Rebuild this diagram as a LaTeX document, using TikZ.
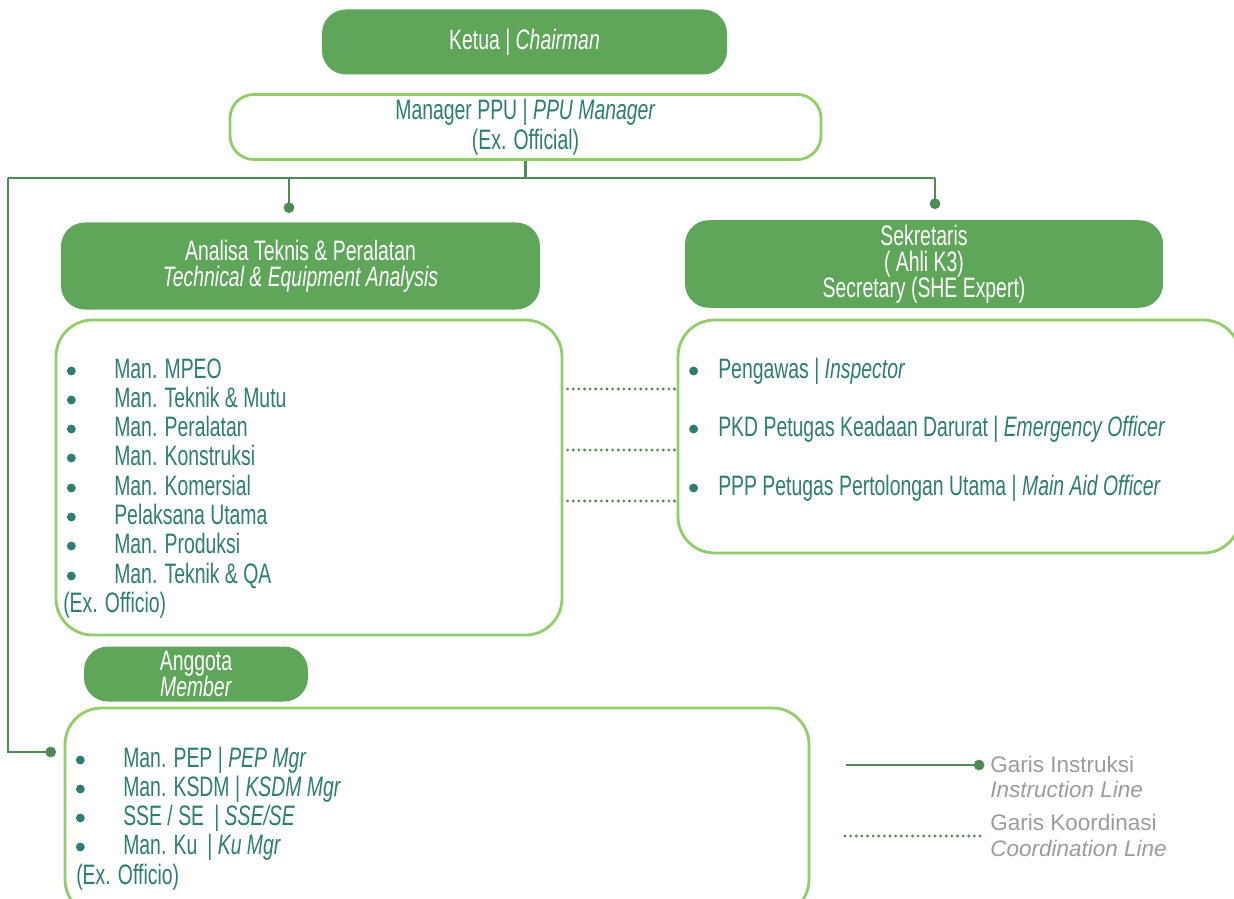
\documentclass[tikz,border=0pt]{standalone}
\usepackage{fontspec}
\setmainfont[FakeStretch=0.69]{Liberation Sans}
\newfontfamily\legendfont{Liberation Sans}
\usetikzlibrary{arrows.meta}
\setlength{\lineskiplimit}{-20pt}

\definecolor{boxgreen}{RGB}{95,165,90}
\definecolor{rimgreen}{RGB}{146,205,108}
\definecolor{linegreen}{RGB}{80,138,85}
\definecolor{tealtext}{RGB}{45,125,112}
\definecolor{legendgrey}{RGB}{155,155,155}

\newcommand{\pxl}{0.025cm}

\tikzset{
	headbox/.style={rectangle, rounded corners=17pt, fill=boxgreen, text=white, align=center},
	rimbox/.style={rectangle, rounded corners=17pt, draw=rimgreen, line width=2pt, fill=white, text=tealtext, align=center},
	listbox/.style={rectangle, rounded corners=26pt, draw=rimgreen, line width=2pt, fill=white},
	bul/.style={circle, fill=tealtext, inner sep=0pt, minimum size=6.3pt},
	item/.style={anchor=west, inner sep=0pt, text height=14pt, text depth=3pt, text=tealtext, label={[bul, xshift=-#1]left:{}}},
	item/.default=27pt,
	plain/.style={anchor=west, inner sep=0pt, text height=14pt, text depth=3pt, text=tealtext},
	legtext/.style={anchor=west, inner sep=0pt, text=legendgrey, font=\legendfont\fontsize{16}{18}\selectfont},
	instr/.style={draw=linegreen, line width=2pt},
	dotend/.style={-{Circle[length=7.5pt]}},
	coord/.style={draw=linegreen, line width=2.2pt, line cap=round, dash pattern=on 0pt off 4pt}
}

\begin{document}
\begin{tikzpicture}[x=0.025cm, y=-0.025cm, every node/.style={font=\fontsize{20}{18.5}\selectfont}]
	\useasboundingbox (0,0) rectangle (1234,899);

	% top of the chart
	\node[headbox, minimum width={405*\pxl}, minimum height={65*\pxl}] (ketua) at (524.5,42) {Ketua | \textit{Chairman}};
	\node[rimbox, minimum width={591*\pxl}, minimum height={64*\pxl}, font=\fontsize{20}{21}\selectfont] (manager) at (525.5,127) {Manager PPU | \textit{PPU Manager}\\(Ex. Official)};

	% two branches
	\node[headbox, minimum width={479*\pxl}, minimum height={87*\pxl}] (analisa) at (300.5,266) {Analisa Teknis \& Peralatan\\\textit{Technical \& Equipment Analysis}};
	\node[headbox, minimum width={478*\pxl}, minimum height={87*\pxl}] (sekretaris) at (924,264) {Sekretaris\\( Ahli K3)\\Secretary (SHE Expert)};

	\node[listbox, minimum width={506*\pxl}, minimum height={315*\pxl}] (leftlist) at (309,477.5) {};
	\node[listbox, minimum width={562*\pxl}, minimum height={233*\pxl}] (rightlist) at (959,436.5) {};

	\node[item] (l1) at (114,371) {Man. MPEO};
	\node[item] (l2) at (114,400) {Man. Teknik \& Mutu};
	\node[item] (l3) at (114,429) {Man. Peralatan};
	\node[item] (l4) at (114,458) {Man. Konstruksi};
	\node[item] (l5) at (114,488) {Man. Komersial};
	\node[item] (l6) at (114,517) {Pelaksana Utama};
	\node[item] (l7) at (114,546) {Man. Produksi};
	\node[item] (l8) at (114,576) {Man. Teknik \& QA};
	\node[plain] (lex) at (63,605) {(Ex. Officio)};

	\node[item=14pt] (r1) at (718,371) {Pengawas | \textit{Inspector}};
	\node[item=14pt] (r2) at (718,429) {PKD Petugas Keadaan Darurat | \textit{Emergency Officer}};
	\node[item=14pt] (r3) at (718,488) {PPP Petugas Pertolongan Utama | \textit{Main Aid Officer}};

	% members
	\node[headbox, minimum width={224*\pxl}, minimum height={55*\pxl}] (anggota) at (196,674) {Anggota\\\textit{Member}};
	\node[listbox, minimum width={744*\pxl}, minimum height={208*\pxl}] (memberlist) at (437,812) {};

	\node[item] (m1) at (123,760) {Man. PEP | \textit{PEP Mgr}};
	\node[item] (m2) at (123,789) {Man. KSDM | \textit{KSDM Mgr}};
	\node[item] (m3) at (123,818) {SSE / SE \,| \textit{SSE/SE}};
	\node[item] (m4) at (123,847) {Man. Ku \,| \textit{Ku Mgr}};
	\node[plain] (mex) at (76,877) {(Ex. Officio)};

	% instruction lines
	\coordinate (busl) at (8,178);
	\coordinate (busr) at (935,178);
	\coordinate (adot) at (289,213);
	\coordinate (sdot) at (935,209);
	\coordinate (mdot) at (56,752);
	\draw[instr] (manager.south) -- (manager.south |- busl);
	\draw[instr] (busr) -- (busl);
	\draw[instr, dotend] (adot |- busl) -- (adot);
	\draw[instr, dotend] (busr) -- (sdot);
	\draw[instr, dotend] (busl) -- (busl |- mdot) -- (mdot);

	% coordination lines
	\coordinate (d1) at (0,389);
	\coordinate (d2) at (0,450);
	\coordinate (d3) at (0,501);
	\draw[coord, shorten <=3pt] (leftlist.east |- d1) -- (rightlist.west |- d1);
	\draw[coord, shorten <=3pt] (leftlist.east |- d2) -- (rightlist.west |- d2);
	\draw[coord, shorten <=3pt] (leftlist.east |- d3) -- (rightlist.west |- d3);

	% legend
	\node[legtext] (lgi) at (990,764) {Garis Instruksi};
	\node[legtext, font=\legendfont\itshape\fontsize{16}{18}\selectfont] (lgie) at (990,789) {Instruction Line};
	\node[legtext] (lgk) at (990,822) {Garis Koordinasi};
	\node[legtext, font=\legendfont\itshape\fontsize{16}{18}\selectfont] (lgke) at (990,848) {Coordination Line};
	\coordinate (lgs) at (846,765);
	\coordinate (lks) at (845,836);
	\draw[instr, dotend, shorten >=4pt] (lgs) -- (lgs -| lgi.west);
	\draw[coord, shorten >=7pt] (lks) -- (lks -| lgk.west);
\end{tikzpicture}
\end{document}
